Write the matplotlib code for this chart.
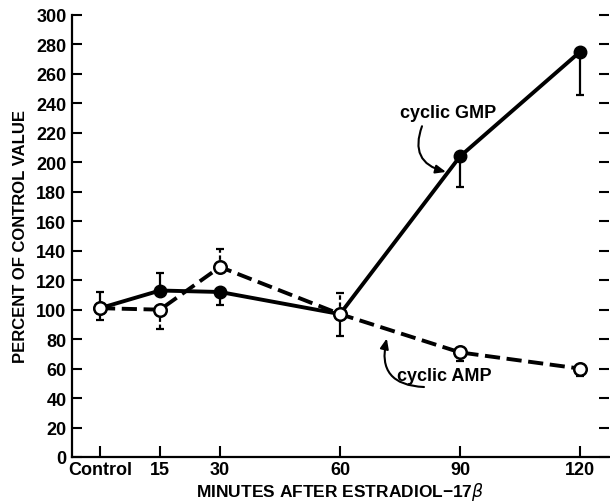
import matplotlib
matplotlib.use('Agg')
import matplotlib.pyplot as plt

plt.rcParams['font.family'] = ['Liberation Sans', 'DejaVu Sans']

# minutes after estradiol (control = 0)
minutes = [0, 15, 30, 60, 90, 120]
tick_labels = ['Control', '15', '30', '60', '90', '120']

# cyclic GMP (filled circles, solid line)
gmp = [101, 113, 112, 97, 204, 275]
gmp_err_lo = [0, 0, 9, 15, 21, 29]
gmp_err_hi = [11, 12, 0, 0, 0, 0]

# cyclic AMP (open circles, dashed line)
amp = [101, 100, 129, 97, 71, 60]
amp_err_lo = [8, 13, 0, 0, 6, 5]
amp_err_hi = [0, 0, 12, 14, 0, 0]

fig = plt.figure(figsize=(6.10, 5.02), dpi=100)
ax = fig.add_axes([72/610, 44/502, 537/610, 442/502])

# error bars first
eb = ax.errorbar(minutes, gmp, yerr=[gmp_err_lo, gmp_err_hi], fmt='none',
                 ecolor='black', elinewidth=1.6, capsize=2.8, capthick=1.6, zorder=2)
eb2 = ax.errorbar(minutes, amp, yerr=[amp_err_lo, amp_err_hi], fmt='none',
                  ecolor='black', elinewidth=1.6, capsize=2.8, capthick=1.6, zorder=2)
eb2[2][0].set_linestyle((0, (2, 1.2)))

ax.plot(minutes, gmp, color='black', lw=2.8, solid_capstyle='butt', zorder=3)
ax.plot(minutes, amp, color='black', lw=2.8, dashes=(3.9, 1.7), zorder=3)

ax.plot(minutes, gmp, 'o', color='black', ms=9, zorder=4)
ax.plot(minutes, amp, 'o', mfc='white', mec='black', mew=1.8, ms=9, zorder=5)

# annotations
ax.text(87, 234, 'cyclic GMP', ha='center', va='center', fontsize=13, fontweight='bold')
ax.annotate('', xy=(86.5, 193.5), xytext=(80.5, 224.5),
            arrowprops=dict(arrowstyle='-|>,head_length=0.6,head_width=0.25',
                            connectionstyle='arc3,rad=0.55', color='black', lw=1.5,
                            shrinkA=0, shrinkB=0))
ax.text(86.2, 55, 'cyclic AMP', ha='center', va='center', fontsize=13, fontweight='bold')
ax.annotate('', xy=(71.7, 80.5), xytext=(81, 47.5),
            arrowprops=dict(arrowstyle='-|>,head_length=0.6,head_width=0.25',
                            connectionstyle='arc3,rad=-0.6', color='black', lw=1.5,
                            shrinkA=0, shrinkB=0))

ax.set_xlim(-7, 127.25)
ax.set_ylim(0, 300)
ax.set_xticks(minutes)
ax.set_xticklabels(tick_labels)
ax.set_yticks(range(0, 301, 20))

ax.spines['top'].set_visible(False)
ax.spines['right'].set_visible(False)
ax.spines['left'].set_linewidth(1.6)
ax.spines['bottom'].set_linewidth(1.6)

ax.tick_params(axis='y', direction='in', length=7, width=1.5, left=True, right=True,
               labelsize=13, pad=4)
ax.tick_params(axis='x', direction='in', length=8, width=1.5, labelsize=13, pad=3)
for lab in ax.get_xticklabels() + ax.get_yticklabels():
    lab.set_fontweight('bold')

ax.set_ylabel('PERCENT OF CONTROL VALUE', fontsize=12, fontweight='bold', labelpad=6)
ax.set_xlabel('MINUTES AFTER ESTRADIOL\u221217$\\beta$', fontsize=12.5, fontweight='bold',
              labelpad=1)

fig.savefig('out.png', dpi=100)
